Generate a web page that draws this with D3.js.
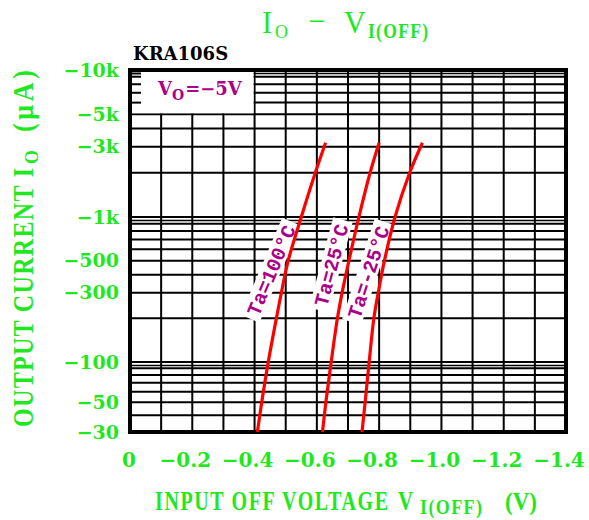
<!DOCTYPE html>
<html><head><meta charset="utf-8">
<script src="https://cdn.jsdelivr.net/npm/d3@7"></script>
<style>body{margin:0;background:#fff} svg{display:block}</style>
</head><body><svg id="c" width="589" height="520"></svg>
<script>
// ---- data ----
const xTicks = [0, -0.2, -0.4, -0.6, -0.8, -1.0, -1.2, -1.4];
const xTickLabels = ["0", "−0.2", "−0.4", "−0.6", "−0.8", "−1.0", "−1.2", "−1.4"];
const yTicks = [-10000, -5000, -3000, -1000, -500, -300, -100, -50, -30];
const yTickLabels = ["−10k", "−5k", "−3k", "−1k", "−500", "−300", "−100", "−50", "−30"];
const currents = [-30, -50, -100, -200, -300, -500, -1000, -2000, -3200];     // I_O (uA)
const vTa100 = [-0.409, -0.423, -0.444, -0.470, -0.486, -0.508, -0.550, -0.595, -0.628];
const vTa25 = [-0.618, -0.629, -0.646, -0.666, -0.681, -0.703, -0.735, -0.771, -0.800];
const vTaM25 = [-0.745, -0.755, -0.768, -0.783, -0.797, -0.817, -0.851, -0.898, -0.939];
const seriesNames = ["Ta=100°C", "Ta=25°C", "Ta=-25°C"];

// ---- styling / layout ----
const GREEN = "#1ee81e", PURPLE = "#ab0087", RED = "#ff0000";
const svg = d3.select("#c");
const x = d3.scaleLinear().domain([0, -1.4]).range([130, 566]);
const y = d3.scaleLog().domain([-30, -100, -1000, -10000]).range([432, 362, 217, 70]);
const X0 = x(0), X1 = x(-1.4), Y0 = y(-30), Y1 = y(-10000);

// grid
const g = svg.append("g");
const hVals = [];
[10, 100, 1000].forEach(d => { for (let k = 1; k <= 9; k++) { const v = d * k; if (v >= 30) hVals.push(-v); } });
hVals.push(-10000);
const vVals = d3.range(1, 14).map(i => -i / 10);

g.selectAll("line.h").data(hVals).join("line")
  .attr("x1", X0).attr("x2", X1).attr("y1", d => y(d)).attr("y2", d => y(d))
  .attr("stroke", "#000").attr("stroke-width", 2);
g.selectAll("line.hd").data([-100, -1000, -10000]).join("line")
  .attr("x1", X0).attr("x2", X1).attr("y1", d => y(d) + 3.5).attr("y2", d => y(d) + 3.5)
  .attr("stroke", "#000").attr("stroke-width", 1.6);
g.selectAll("line.v").data(vVals).join("line")
  .attr("x1", d => x(d)).attr("x2", d => x(d)).attr("y1", Y1).attr("y2", Y0)
  .attr("stroke", "#000").attr("stroke-width", 2);

// legend box covering the grid (top-left)
svg.append("rect").attr("x", X0 + 1).attr("y", Y1 + 1)
  .attr("width", x(-0.4) - 1 - (X0 + 1)).attr("height", y(-5000) - 1 - (Y1 + 1))
  .attr("fill", "#fff");
svg.selectAll("line.tk").data(hVals.filter(d => d < -5000 && d > -10000).concat([-10000]))
  .join("line").attr("x1", X0).attr("x2", X0 + 11)
  .attr("y1", d => d === -10000 ? y(d) + 3.5 : y(d)).attr("y2", d => d === -10000 ? y(d) + 3.5 : y(d))
  .attr("stroke", "#000").attr("stroke-width", 2);

// frame
svg.append("rect").attr("x", X0).attr("y", Y1).attr("width", X1 - X0).attr("height", Y0 - Y1)
  .attr("fill", "none").attr("stroke", "#000").attr("stroke-width", 4);

// V0 = -5V
const vt = svg.append("text").attr("x", 158).attr("y", 95).attr("fill", PURPLE)
  .attr("font-family", "DejaVu Serif").attr("font-weight", "bold").attr("font-size", 18);
vt.append("tspan").text("V");
vt.append("tspan").attr("font-size", 14).attr("dy", 5).text("O");
vt.append("tspan").attr("dy", -5).attr("dx", 1).text("=−5V");

// series labels with white backgrounds
const seriesV = [vTa100, vTa25, vTaM25];
const labelAnchors = [{v: -0.452, i: -430, a: -67}, {v: -0.645, i: -467, a: -75}, {v: -0.764, i: -418, a: -72}];
seriesNames.forEach((nm, k) => {
  const p = labelAnchors[k];
  const lg = svg.append("g").attr("transform", `translate(${x(p.v)},${y(p.i)}) rotate(${p.a})`);
  const w = nm.length * 12.2;
  lg.append("rect").attr("x", -w / 2 - 4).attr("y", -10).attr("width", w + 8).attr("height", 20).attr("fill", "#fff");
  lg.append("text").attr("text-anchor", "middle").attr("dy", "0.36em")
    .attr("font-family", "Liberation Mono").attr("font-weight", "bold").attr("font-size", 20)
    .attr("fill", PURPLE).text(nm);
});

// curves
const line = d3.line().x(d => x(d[0])).y(d => y(d[1])).curve(d3.curveCatmullRom.alpha(0.5));
seriesV.forEach(vs => {
  svg.append("path").datum(vs.map((v, i) => [v, currents[i]])).attr("d", line)
    .attr("fill", "none").attr("stroke", RED).attr("stroke-width", 3.2);
});

// tick labels
svg.selectAll("text.yt").data(yTicks).join("text")
  .attr("x", 119).attr("y", d => y(d) + 6.5).attr("text-anchor", "end")
  .attr("font-family", "DejaVu Serif").attr("font-weight", "bold").attr("font-size", 19)
  .attr("fill", GREEN).text((d, i) => yTickLabels[i]);
svg.selectAll("text.xt").data(xTicks).join("text")
  .attr("x", d => x(d) + (d === 0 ? -1 : -7)).attr("y", 467).attr("text-anchor", "middle")
  .attr("font-family", "DejaVu Serif").attr("font-weight", "bold").attr("font-size", 20)
  .attr("fill", GREEN).text((d, i) => xTickLabels[i]);

// model name
svg.append("text").attr("x", 133).attr("y", 60).attr("font-family", "DejaVu Serif")
  .attr("font-weight", "bold").attr("font-size", 18).attr("fill", "#000").text("KRA106S");

// stretched text helper (tall, narrow serif like the datasheet)
function sText(parent, tx, ty, str, size, sy, opts = {}) {
  const t = parent.append("g").attr("transform", `translate(${tx},${ty}) scale(1,${sy})`)
    .append("text").attr("font-family", "Liberation Serif").attr("font-size", size)
    .attr("font-weight", opts.weight || "bold").attr("fill", GREEN).text(str);
  if (opts.len) t.attr("textLength", opts.len).attr("lengthAdjust", "spacing");
  if (opts.anchor) t.attr("text-anchor", opts.anchor);
  return t;
}

// title
sText(svg, 262, 33, "I", 30, 1.05, {weight: "normal"});
sText(svg, 275, 38, "O", 18, 1.05, {weight: "normal"});
sText(svg, 317, 31, "−", 30, 1, {weight: "normal", anchor: "middle"});
sText(svg, 344, 33, "V", 30, 1.05, {weight: "normal"});
sText(svg, 368, 38, "I(OFF)", 17.5, 1.25, {len: 60});

// x axis title
sText(svg, 155, 510, "INPUT OFF VOLTAGE", 20, 1.35, {len: 233});
sText(svg, 398, 510, "V", 21, 1.35);
sText(svg, 420, 514, "I(OFF)", 18, 1.2, {len: 62});
sText(svg, 505, 510, "(V)", 23, 1.1);

// y axis title
const yt = svg.append("g").attr("transform", "translate(33,427) rotate(-90)");
sText(yt, 0, 0, "OUTPUT CURRENT I", 24, 1.2, {len: 259});
sText(yt, 263, 5, "O", 18, 1.1);
sText(yt, 295, 0, "(μA)", 26, 1.15, {len: 62});
</script></body></html>
